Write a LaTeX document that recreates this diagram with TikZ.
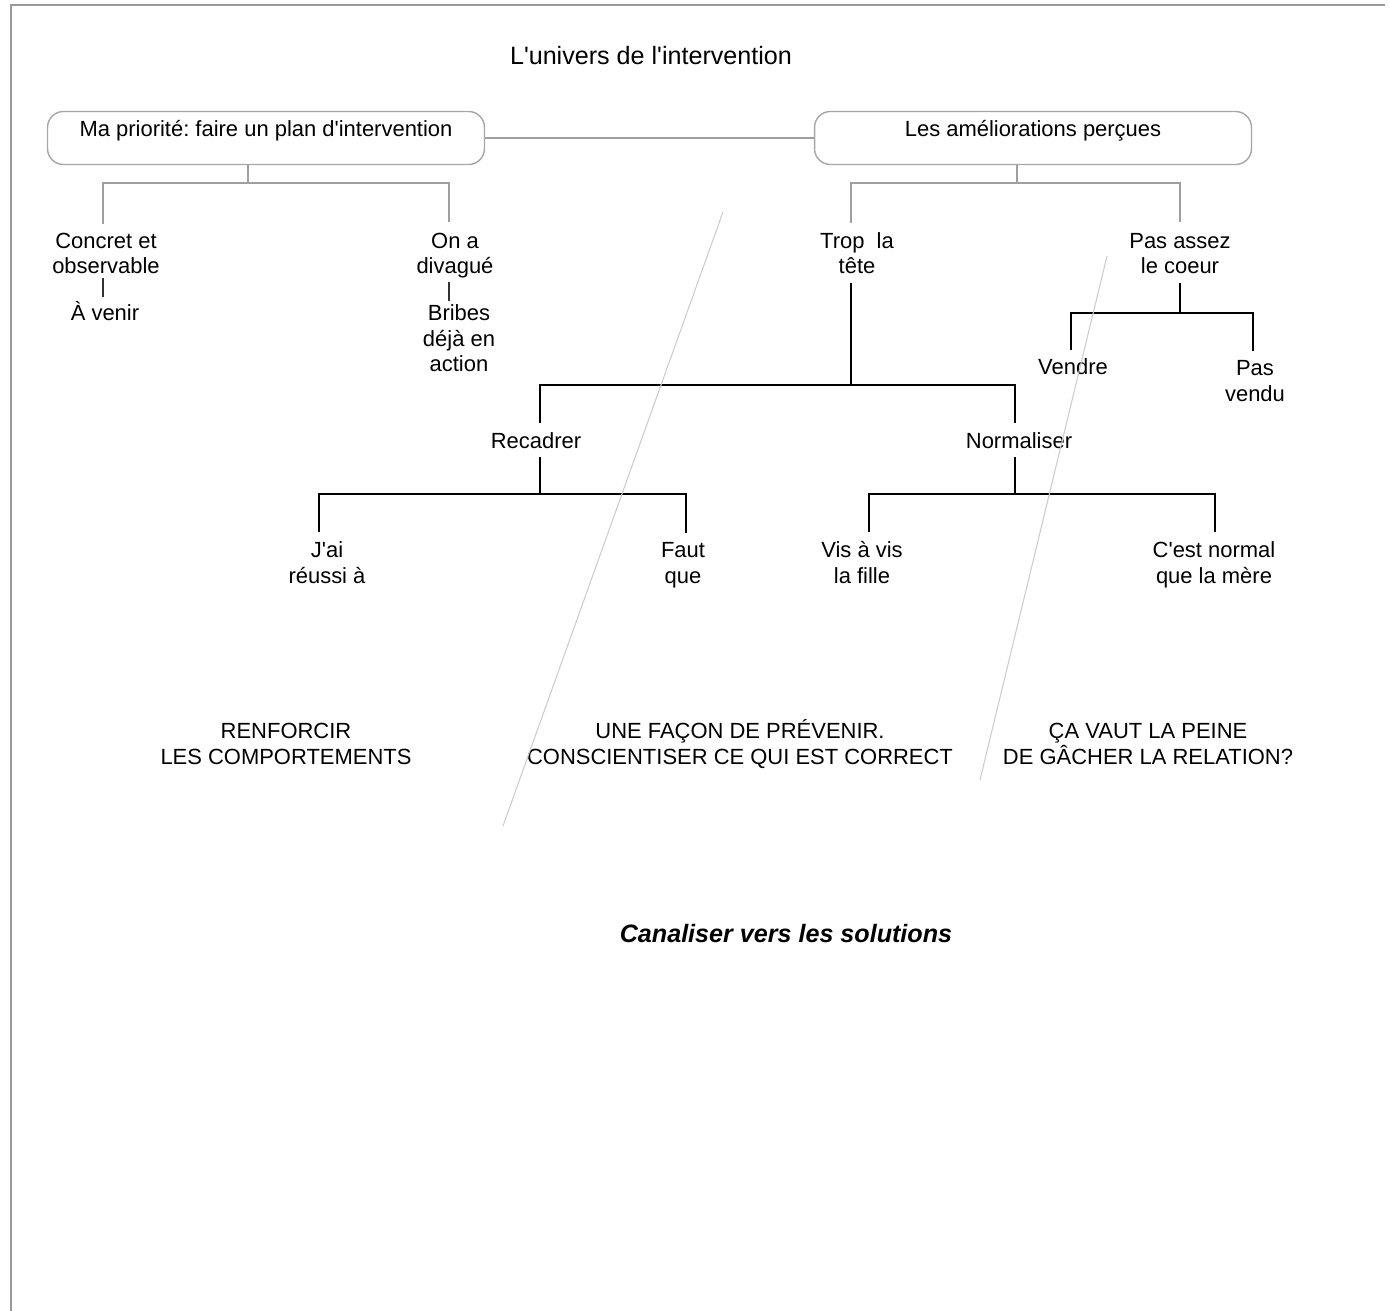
\documentclass[tikz,border=0pt]{standalone}
\usepackage{fontspec}
\setmainfont{Liberation Sans}
\usetikzlibrary{positioning}
\newcommand{\apos}{\textquotesingle}
\frenchspacing

\begin{document}
\begin{tikzpicture}[x=0.02cm, y=-0.02cm,
    every node/.style={font=\fontsize{12.5}{14.7}\selectfont},
    lbl/.style={align=center, inner sep=1pt, anchor=base},
    rbox/.style={draw=gray!70, line width=0.8pt, rounded corners=9pt, minimum width=8.74cm, text height=0.5cm, text depth=0.56cm, inner ysep=0pt},
    light/.style={draw=gray!75, line width=0.6pt, shorten <=4pt, shorten >=5pt},
    heavy/.style={draw=black, line width=1.1pt, shorten <=4pt, shorten >=4pt},
    slash/.style={draw=gray!40, line width=0.6pt}]
    \useasboundingbox (0,0) rectangle (1390,1311);
    % frame
    \draw[gray!80, line width=1pt] (11,1311) -- (11,5) -- (1385,5);

    \node[font=\fontsize{14.3}{16}\selectfont, anchor=base] (titre) at (651,65) {L\apos univers de l\apos intervention};
    \node[rbox] (prio) at (266,138) {Ma priorité: faire un plan d\apos intervention};
    \node[rbox] (amelio) at (1033,138) {Les améliorations perçues};
    \draw[gray!75, line width=0.6pt] (prio.east) -- (amelio.west);

    % left branch
    \node[lbl] (concret) at (106,274) {Concret et\\observable};
    \node[lbl] (avenir) at (105,320) {À venir};
    \node[lbl] (divague) at (455,274) {On a\\divagué};
    \node[lbl] (bribes) at (459,372) {Bribes\\déjà en\\action};
    \coordinate (jprio) at (248,183);
    \draw[light, shorten <=0pt, shorten >=0pt] (jprio |- prio.south) -- (jprio);
    \draw[light] (concret.north -| 103,0) |- (jprio) -| (divague.north -| 449,0);
    \draw[gray!40!black, line width=0.8pt, shorten <=1pt, shorten >=1pt] (concret.south -| 103,0) -- (avenir.north -| 103,0);
    \draw[gray!40!black, line width=0.8pt, shorten <=1pt, shorten >=1pt] (divague.south -| 449,0) -- (bribes.north -| 449,0);

    % right branch
    \node[lbl] (trop) at (857,274) {Trop\ \ la\\tête};
    \node[lbl] (coeur) at (1180,274) {Pas assez\\le coeur};
    \coordinate (jamelio) at (1017,183);
    \draw[light, shorten <=0pt, shorten >=0pt] (jamelio |- amelio.south) -- (jamelio);
    \draw[light] (trop.north -| 851,0) |- (jamelio) -| (coeur.north);

    \node[lbl] (vendre) at (1073,375) {Vendre};
    \node[lbl] (pasvendu) at (1255,401) {Pas\\vendu};
    \coordinate (jcoeur) at (1180,313);
    \draw[heavy, shorten >=0pt] (coeur.south) -- (jcoeur);
    \draw[heavy, shorten >=0pt] (vendre.north -| 1071,0) |- (jcoeur);
    \draw[heavy, shorten <=0pt] (jcoeur) -| (pasvendu.north -| 1253,0);

    \node[lbl] (recadrer) at (536,448) {Recadrer};
    \node[lbl] (normaliser) at (1019,448) {Normaliser};
    \coordinate (jtrop) at (851,385);
    \draw[heavy, shorten >=0pt] (trop.south -| jtrop) -- (jtrop);
    \draw[heavy] (recadrer.north -| 540,0) |- (jtrop) -| (normaliser.north -| 1015,0);

    \node[lbl] (reussi) at (327,583) {J\apos ai\\réussi à};
    \node[lbl] (faut) at (683,583) {Faut\\que};
    \node[lbl] (visavis) at (862,583) {Vis à vis\\la fille};
    \node[lbl] (normal) at (1214,583) {C\apos est normal\\que la mère};
    \coordinate (jrecadrer) at (540,494);
    \coordinate (jnormal) at (1015,494);
    \draw[heavy, shorten >=0pt] (recadrer.south -| jrecadrer) -- (jrecadrer);
    \draw[heavy] (reussi.north -| 319,0) |- (jrecadrer) -| (faut.north -| 686,0);
    \draw[heavy, shorten >=0pt] (normaliser.south -| jnormal) -- (jnormal);
    \draw[heavy] (visavis.north -| 869,0) |- (jnormal) -| (normal.north -| 1215,0);

    % bottom notes
    \node[lbl] (renforcir) at (286,764) {RENFORCIR\\LES COMPORTEMENTS};
    \node[lbl] (prevenir) at (740,764) {UNE FAÇON DE PRÉVENIR.\\CONSCIENTISER CE QUI EST CORRECT};
    \node[lbl] (peine) at (1148,764) {ÇA VAUT LA PEINE\\DE GÂCHER LA RELATION?};
    \node[font=\fontsize{14.3}{16}\selectfont\bfseries\itshape, anchor=base] (canaliser) at (786,942) {Canaliser vers les solutions};

    % faint slashes
    \coordinate (s1a) at (723,212);
    \coordinate (s1b) at (503,826);
    \coordinate (s2a) at (1107,256);
    \coordinate (s2b) at (980,780);
    \draw[slash] (s1a) -- (s1b);
    \draw[slash] (s2a) -- (s2b);
  \end{tikzpicture}
\end{document}
